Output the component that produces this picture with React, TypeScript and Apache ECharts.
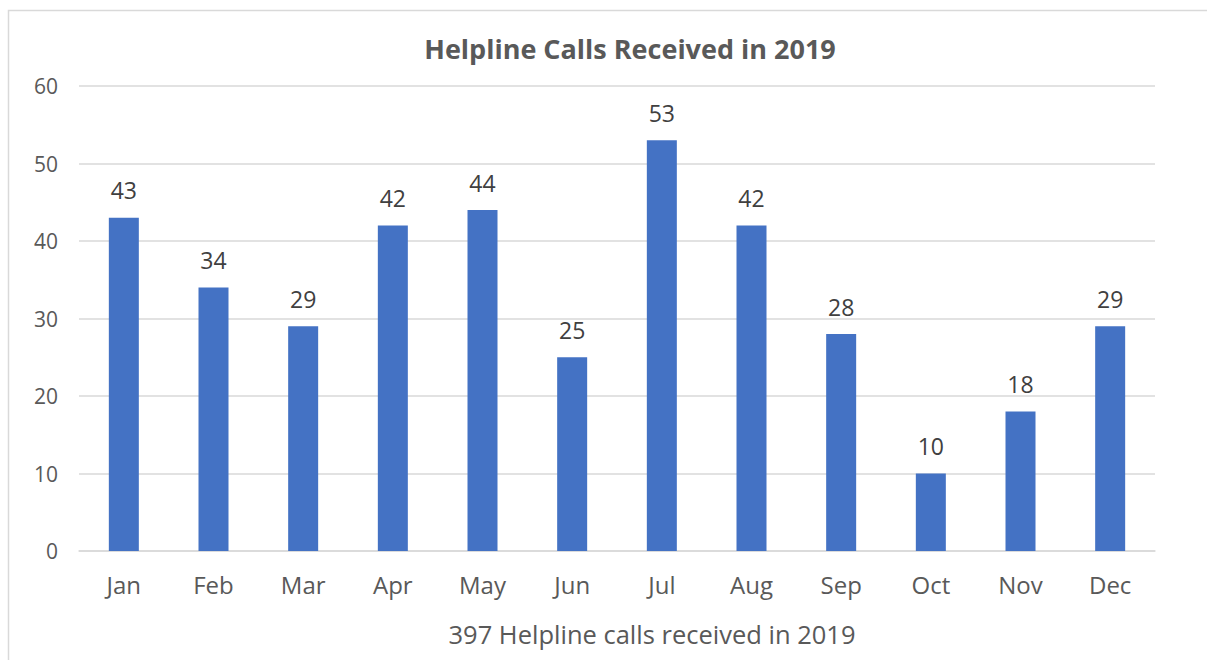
import React, { useEffect, useRef } from "react";
import * as echarts from "echarts";

const months = ["Jan", "Feb", "Mar", "Apr", "May", "Jun", "Jul", "Aug", "Sep", "Oct", "Nov", "Dec"];
const calls = [43, 34, 29, 42, 44, 25, 53, 42, 28, 10, 18, 29];
const titleText = "Helpline Calls Received in 2019";
const axisTitle = "397 Helpline calls received in 2019";

const FONT = "'Open Sans', 'Noto Sans', sans-serif";
const TXT = "#595959";

export default function App() {
  const ref = useRef<HTMLDivElement>(null);
  useEffect(() => {
    if (!ref.current) return;
    const chart = echarts.init(ref.current, null, { renderer: "svg" });
    chart.setOption({
      animation: false,
      backgroundColor: "#ffffff",
      title: {
        text: titleText,
        left: 625,
        top: 30,
        textAlign: "center",
        textStyle: { fontFamily: FONT, fontSize: 27, fontWeight: "bold", color: TXT },
      },
      graphic: [
        {
          type: "rect",
          shape: { x: 8.5, y: 10.5, width: 1300, height: 800 },
          style: { fill: "none", stroke: "#d9d9d9", lineWidth: 1.5 },
          silent: true,
        },
        {
          type: "text",
          x: 652,
          y: 634,
          style: {
            text: axisTitle,
            fontFamily: FONT,
            fontSize: 25.5,
            fill: TXT,
            textAlign: "center",
            textVerticalAlign: "middle",
          },
        },
      ],
      grid: { left: 79, right: 52, top: 86, bottom: 109, containLabel: false },
      xAxis: {
        type: "category",
        data: months,
        axisLine: { lineStyle: { color: "#d9d9d9", width: 1.5 } },
        axisTick: { show: false },
        axisLabel: { fontFamily: FONT, fontSize: 24, color: TXT, margin: 21 },
      },
      yAxis: {
        type: "value",
        min: 0,
        max: 60,
        interval: 10,
        axisLine: { show: false },
        axisTick: { show: false },
        splitLine: { lineStyle: { color: "#d9d9d9", width: 1.5 } },
        axisLabel: { fontFamily: FONT, fontSize: 21, color: TXT, margin: 21 },
      },
      series: [
        {
          type: "bar",
          data: calls,
          barWidth: 30,
          itemStyle: { color: "#4472C4" },
          label: {
            show: true,
            position: "top",
            distance: 16,
            fontFamily: FONT,
            fontSize: 23,
            color: "#404040",
          },
        },
      ],
    });
    return () => chart.dispose();
  }, []);
  return (
    <div
      ref={ref}
      style={{ position: "fixed", left: 0, top: 0, width: 1207, height: 660 }}
    />
  );
}
